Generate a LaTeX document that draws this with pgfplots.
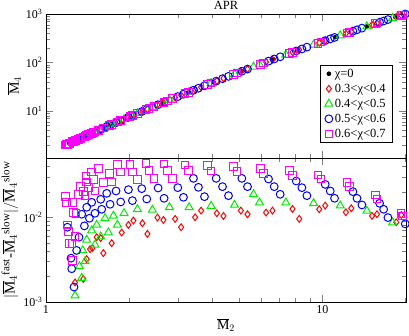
\documentclass[border=0pt]{standalone}
\usepackage{fontspec}
\setmainfont{Liberation Serif}
\usepackage{pgfplots}
\usepackage{pgfplotstable}
\pgfplotsset{compat=1.18}

\definecolor{xred}{RGB}{255,0,0}
\definecolor{xgreen}{RGB}{0,235,0}
\definecolor{xblue}{RGB}{0,0,255}
\definecolor{xmag}{RGB}{255,0,255}

% columns: M2bar, M4bar, |M4fast-M4slow|/M4slow
\pgfplotstableread{
x m4
1.706 5.08
1.932 6.92
2.253 10.04
2.640 14.66
3.279 24.33
4.040 39.11
5.117 66.03
6.663 116.4
8.095 174.6
11.14 332.1
14.51 552.9
18.39 858.8
}\zerotab

\pgfplotstableread{
x m4 dr
1.274 2.43 0.00170
1.365 2.90 0.00187
1.404 3.11 0.00321
1.444 3.34 0.00420
1.472 3.51 0.00432
1.526 3.85 0.00582
1.578 4.18 0.00566
1.613 4.42 0.00377
1.729 5.26 0.00494
1.880 6.46 0.00660
1.988 7.41 0.00812
2.072 8.20 0.00914
2.234 9.83 0.00850
2.329 10.87 0.00637
2.532 13.28 0.00991
2.661 14.94 0.00930
2.934 18.79 0.00956
3.084 21.11 0.00763
3.466 27.65 0.01000
3.644 30.99 0.01198
4.154 41.65 0.01114
4.390 47.13 0.01037
5.075 64.84 0.01198
5.364 73.17 0.01085
6.264 102.3 0.01135
6.607 114.3 0.01198
7.808 162.0 0.01253
8.252 181.8 0.00956
9.752 254.8 0.01242
10.25 281.7 0.01372
12.18 395.2 0.01145
12.74 430.8 0.01276
15.14 598.5 0.01037
15.78 647.3 0.01085
18.54 871.8 0.00873
19.33 940.6 0.01065
}\redtab

\pgfplotstableread{
x m4 dr
1.274 2.43 0.00119
1.347 2.80 0.00192
1.321 2.66 0.00263
1.384 3.01 0.00301
1.358 2.86 0.00406
1.404 3.11 0.00541
1.464 3.46 0.00697
1.504 3.71 0.00473
1.526 3.85 0.00812
1.578 4.18 0.00592
1.636 4.58 0.00973
1.682 4.91 0.00660
1.754 5.44 0.01037
1.813 5.91 0.00812
1.917 6.78 0.01114
2.142 8.89 0.01242
2.428 12.02 0.01220
2.798 16.82 0.01311
3.297 24.64 0.01311
3.961 37.43 0.01359
4.812 57.74 0.01397
5.640 81.52 0.01865
5.929 90.78 0.01488
7.385 144.4 0.01488
9.303 231.7 0.01461
11.62 360.5 0.01372
14.51 552.9 0.01187
17.98 824.6 0.00866
}\greentab

\pgfplotstableread{
x m4 dr
1.195 2.06 0.00763
1.232 2.23 0.00329
1.239 2.26 0.00247
1.263 2.38 0.00150
1.291 2.52 0.00406
1.317 2.65 0.00582
1.347 2.80 0.01085
1.377 2.96 0.00791
1.404 3.11 0.01311
1.436 3.30 0.00973
1.464 3.46 0.01502
1.504 3.71 0.01114
1.578 4.18 0.01628
1.591 4.27 0.01242
1.659 4.74 0.01916
1.706 5.08 0.01422
1.793 5.75 0.02041
1.864 6.33 0.01515
1.988 7.41 0.02116
2.055 8.04 0.01571
2.222 9.70 0.02174
2.316 10.73 0.01643
2.546 13.45 0.02214
2.676 15.14 0.01673
3.000 19.80 0.02234
3.145 22.09 0.01719
3.418 26.78 0.02876
3.563 29.45 0.02254
3.747 33.01 0.01750
4.130 41.11 0.02876
4.354 46.27 0.02296
4.578 51.69 0.01798
5.117 66.03 0.02876
5.364 73.17 0.02296
6.391 106.6 0.02825
6.700 117.8 0.02296
7.043 130.8 0.01865
8.050 172.6 0.02676
8.441 190.1 0.02234
8.800 207.0 0.01798
10.25 281.7 0.02444
10.69 305.9 0.02041
11.08 328.6 0.01673
12.91 442.5 0.02004
13.36 471.9 0.01673
13.92 510.9 0.01397
16.13 674.5 0.01461
16.68 717.8 0.01242
17.29 767.6 0.00991
19.98 999.0 0.00835
}\bluetab

\pgfplotstableread{
x m4 dr
1.178 1.99 0.01750
1.188 2.03 0.01488
1.249 2.31 0.01488
1.256 2.34 0.01135
1.284 2.48 0.01114
1.195 2.06 0.00812
1.205 2.10 0.00678
1.274 2.43 0.00592
1.215 2.15 0.00494
1.242 2.28 0.00494
1.249 2.31 0.00309
1.309 2.61 0.01865
1.384 3.01 0.01815
1.335 2.74 0.02296
1.365 2.90 0.02004
1.424 3.23 0.02234
1.396 3.07 0.03064
1.404 3.11 0.02604
1.464 3.46 0.03415
1.484 3.58 0.02800
1.504 3.71 0.02041
1.547 3.98 0.03736
1.613 4.42 0.02557
1.696 5.01 0.03294
1.729 5.26 0.02604
1.813 5.91 0.04203
1.864 6.33 0.03415
2.015 7.66 0.04203
2.055 8.04 0.03415
2.142 8.89 0.02800
2.303 10.59 0.04318
2.362 11.25 0.03540
2.462 12.43 0.02876
2.676 15.14 0.04241
2.752 16.17 0.03540
2.869 17.83 0.02876
3.188 22.81 0.04128
3.279 24.33 0.03540
3.842 34.93 0.04054
3.961 37.43 0.03509
4.772 56.69 0.03946
4.907 60.26 0.03446
5.963 91.9 0.03772
6.131 97.5 0.03294
7.614 153.9 0.03540
7.808 162.0 0.03092
9.645 249.2 0.03148
9.890 262.1 0.02825
12.29 401.8 0.02581
12.53 417.1 0.02296
15.56 630.4 0.01831
15.78 647.3 0.01643
19.28 936.1 0.01114
19.55 959.8 0.01037
}\magtab

\begin{document}
\begin{tikzpicture}
\useasboundingbox (0,0) rectangle (409pt,335pt);

\begin{axis}[
  at={(46pt,177pt)}, anchor=south west,
  scale only axis, width=360pt, height=144pt,
  xmode=log, ymode=log, xmin=1, xmax=20.1,
  ymin=1.07, ymax=1000,
  xtick={1,10}, minor xtick={2,3,4,5,6,7,8,9,20},
  xticklabels={},
  ytick={10,100,1000},
  yticklabels={10\textsuperscript{1},10\textsuperscript{2},10\textsuperscript{3}},
  minor ytick={2,3,4,5,6,7,8,9,20,30,40,50,60,70,80,90,200,300,400,500,600,700,800,900},
  tick align=inside, tick pos=both,
  major tick length=7pt, minor tick length=4pt,
  axis line style={line width=0.7pt},
  font=\fontsize{12}{14}\selectfont,
  clip=false,
  ylabel={$\overline{\mathrm{M}}_4$},
  ylabel style={at={(axis description cs:-0.088,0.5)}, anchor=center, font=\fontsize{14}{16}\selectfont},
  title={APR},
  every axis title shift=0pt,
  title style={at={(axis description cs:0.5,1)}, anchor=base, inner sep=0pt, yshift=4.2pt, font=\fontsize{12.5}{14}\selectfont},
  legend style={at={(axis description cs:0.964,0.104)}, anchor=south east,
    draw=black, line width=0.6pt, fill=white, inner xsep=5pt, inner ysep=2pt, row sep=1.2pt,
    font=\fontsize{12.5}{14}\selectfont},
  legend cell align=left,
]
\addplot[only marks, mark=*, mark size=2pt, black] table[x=x, y=m4] {\zerotab};
\addlegendentry{χ=0}
\addplot[only marks, mark=diamond, mark size=3.4pt, xred, line width=1pt] table[x=x, y=m4] {\redtab};
\addlegendentry{0.3<χ<0.4}
\addplot[only marks, mark=triangle, mark size=4.6pt, xgreen, line width=1pt] table[x=x, y=m4] {\greentab};
\addlegendentry{0.4<χ<0.5}
\addplot[only marks, mark=o, mark size=3.9pt, xblue, line width=1pt] table[x=x, y=m4] {\bluetab};
\addlegendentry{0.5<χ<0.6}
\addplot[only marks, mark=square, mark size=3.8pt, xmag, line width=1pt] table[x=x, y=m4] {\magtab};
\addlegendentry{0.6<χ<0.7}
\end{axis}

\begin{axis}[
  at={(46pt,33pt)}, anchor=south west,
  scale only axis, width=360pt, height=144pt,
  xmode=log, ymode=log, xmin=1, xmax=20.1,
  ymin=0.001, ymax=0.05,
  xtick={1,10}, minor xtick={2,3,4,5,6,7,8,9,20},
  xticklabels={1,10},
  ytick={0.001,0.01},
  yticklabels={10\textsuperscript{-3},10\textsuperscript{-2}},
  minor ytick={0.002,0.003,0.004,0.005,0.006,0.007,0.008,0.009,0.02,0.03,0.04},
  tick align=inside, tick pos=both,
  major tick length=7pt, minor tick length=4pt,
  axis line style={line width=0.7pt},
  font=\fontsize{12}{14}\selectfont,
  clip=false,
  xlabel={$\overline{\mathrm{M}}_2$},
  xlabel style={at={(axis description cs:0.5,-0.16)}, anchor=center, font=\fontsize{14}{16}\selectfont},
  ylabel={$|\overline{\mathrm{M}}_4{}^{\mbox{\fontsize{11}{11}\selectfont fast}}\mbox{-}\overline{\mathrm{M}}_4{}^{\mbox{\fontsize{11}{11}\selectfont slow}}|/\overline{\mathrm{M}}_4{}^{\mbox{\fontsize{11}{11}\selectfont slow}}$},
  ylabel style={at={(axis description cs:-0.1,0.5)}, anchor=center, font=\fontsize{15}{17}\selectfont},
]
\addplot[only marks, mark=diamond, mark size=3.4pt, xred, line width=1pt] table[x=x, y=dr] {\redtab};
\addplot[only marks, mark=triangle, mark size=4.6pt, xgreen, line width=1pt] table[x=x, y=dr] {\greentab};
\addplot[only marks, mark=o, mark size=3.9pt, xblue, line width=1pt] table[x=x, y=dr] {\bluetab};
\addplot[only marks, mark=square, mark size=3.8pt, xmag, line width=1pt] table[x=x, y=dr] {\magtab};
\end{axis}
\end{tikzpicture}
\end{document}
